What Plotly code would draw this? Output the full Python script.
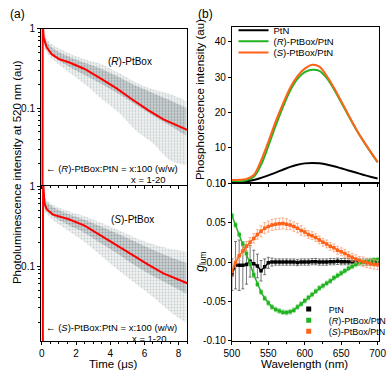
import plotly.graph_objects as go

# ---------------- Panel (a) data ----------------
t_env = [0.05, 0.5, 1.5, 2.5, 3.5, 4.5, 5.5, 6.5, 7.5, 8.45]
R_upper = [0.92, 0.66, 0.50, 0.41, 0.355, 0.275, 0.21, 0.172, 0.15, 0.123]
R_lower = [0.60, 0.435, 0.29, 0.20, 0.13, 0.088, 0.052, 0.036, 0.022, 0.019]
R_core_hi = [0.85, 0.60, 0.45, 0.37, 0.31, 0.245, 0.19, 0.155, 0.125, 0.10]
R_core_lo = [0.68, 0.48, 0.34, 0.26, 0.20, 0.15, 0.11, 0.08, 0.06, 0.045]
S_upper = [0.77, 0.61, 0.49, 0.42, 0.345, 0.28, 0.225, 0.188, 0.165, 0.152]
S_lower = [0.51, 0.40, 0.28, 0.20, 0.133, 0.088, 0.06, 0.041, 0.027, 0.0196]
S_core_hi = [0.72, 0.57, 0.45, 0.38, 0.31, 0.25, 0.20, 0.16, 0.13, 0.11]
S_core_lo = [0.56, 0.44, 0.33, 0.26, 0.19, 0.14, 0.10, 0.075, 0.058, 0.045]

R_fit_t = [0.03, 0.05, 0.11, 0.29, 0.57, 1.03, 1.58, 2.5, 3.43, 4.35, 5.27, 6.19, 7.11, 8.5]
R_fit_v = [0.001, 1.2, 0.76, 0.575, 0.476, 0.41, 0.377, 0.31, 0.236, 0.178, 0.129, 0.0946, 0.072, 0.053]
S_fit_t = [0.05, 0.07, 0.15, 0.29, 0.65, 1.58, 2.5, 3.43, 4.35, 5.27, 6.19, 7.11, 8.5]
S_fit_v = [0.001, 1.2, 0.61, 0.51, 0.44, 0.385, 0.32, 0.24, 0.183, 0.139, 0.105, 0.081, 0.061]

# ---------------- Panel (b) top data ----------------
wl_int = [500, 510, 520, 530, 540, 550, 560, 570, 580, 590, 600, 610, 620, 630, 640, 650, 660, 670, 680, 690, 700]
I_PtN = [0.3, 0.35, 0.5, 0.9, 1.5, 2.2, 3.0, 3.8, 4.6, 5.2, 5.6, 5.7, 5.6, 5.3, 4.8, 4.2, 3.6, 3.0, 2.4, 1.8, 1.3]
I_R = [0.4, 0.5, 0.8, 1.8, 5.2, 10.5, 16.2, 21.5, 26.2, 29.5, 31.4, 32.1, 31.8, 29.8, 26.6, 22.9, 19.1, 15.4, 12.0, 8.9, 5.9]
I_S = [0.9, 0.95, 1.2, 2.3, 6.4, 11.7, 17.4, 22.4, 27.0, 30.3, 32.4, 33.5, 33.0, 30.4, 27.0, 23.2, 19.3, 15.5, 12.1, 9.0, 6.0]

# ---------------- Panel (b) bottom data ----------------
wl_g = list(range(500, 705, 5))
g_PtN = [-0.016, -0.004, -0.004, -0.004, -0.003, 0.001, -0.002, -0.005, -0.011, -0.006,
         -0.001, 0.0, 0.0, 0.0, 0.0, 0.0, 0.0, 0.0, -0.0005, 0.0, 0.0, 0.0, 0.0005, 0.0005,
         0.0, 0.0, 0.0, 0.0005, 0.0005, 0.001, 0.0005, 0.0005, 0.0005, 0.0, 0.0, 0.0, 0.0,
         0.0, 0.0, 0.0, 0.0]
e_PtN = [0.02, 0.03, 0.032, 0.03, 0.025, 0.02, 0.017, 0.015, 0.013, 0.01, 0.007, 0.005]
e_PtN = e_PtN + [0.004] * (41 - len(e_PtN))
g_R = [0.059, 0.047, 0.035, 0.023, 0.011, -0.0025, -0.016, -0.028, -0.038, -0.046,
       -0.052, -0.057, -0.060, -0.062, -0.0635, -0.064, -0.063, -0.061, -0.057, -0.053,
       -0.049, -0.045, -0.041, -0.037, -0.033, -0.030, -0.027, -0.024, -0.020, -0.017,
       -0.014, -0.011, -0.008, -0.0055, -0.003, -0.0015, 0.0, 0.001, 0.002, 0.0025, 0.003]
e_R = [0.003] * 41
g_S = [-0.0115, -0.0005, 0.008, 0.014, 0.020, 0.025, 0.030, 0.035, 0.039, 0.043,
       0.045, 0.047, 0.048, 0.0485, 0.049, 0.048, 0.047, 0.045, 0.043, 0.040,
       0.038, 0.035, 0.0335, 0.031, 0.028, 0.025, 0.023, 0.020, 0.018, 0.015,
       0.013, 0.011, 0.008, 0.006, 0.004, 0.002, 0.0005, -0.001, -0.002, -0.003, -0.0035]
e_S = [0.006, 0.006, 0.006, 0.006, 0.006, 0.006, 0.006, 0.006, 0.007, 0.007, 0.007, 0.007,
       0.007, 0.007, 0.007, 0.007, 0.006, 0.006, 0.006, 0.006, 0.005, 0.005, 0.005, 0.005,
       0.005, 0.005, 0.005, 0.005, 0.005, 0.005, 0.005, 0.005, 0.005, 0.005, 0.005, 0.005,
       0.006, 0.006, 0.006, 0.006, 0.006]

series_names = ["PtN", "(<i>R</i>)-PtBox/PtN", "(<i>S</i>)-PtBox/PtN"]

BLACK = "#000000"
GREEN = "#22b322"
ORANGE = "#ff6319"
RED = "#ff0000"
FONT = "Arial, Liberation Sans, sans-serif"

W, H = 392, 376
def px(x): return x / W
def py(y): return 1 - y / H

fig = go.Figure()

def band(xa, ya, lo, hi, fg, bg, size, sol):
    fig.add_trace(go.Scatter(x=t_env, y=lo, mode="lines", line=dict(width=0, shape="spline"),
                             xaxis=xa, yaxis=ya, showlegend=False, hoverinfo="skip"))
    fig.add_trace(go.Scatter(x=t_env, y=hi, mode="lines", line=dict(width=0, shape="spline"),
                             fill="tonexty", fillcolor=bg,
                             fillpattern=dict(shape=".", fgcolor=fg, bgcolor=bg, size=size, solidity=sol),
                             xaxis=xa, yaxis=ya, showlegend=False, hoverinfo="skip"))

OUT_BG = "rgba(210,216,218,0.35)"
CORE_BG = "rgba(150,162,166,0.4)"
band("x", "y", R_lower, R_upper, "#9aa5a8", OUT_BG, 3, 0.3)
band("x", "y", R_core_lo, R_core_hi, "#7a8689", CORE_BG, 3, 0.35)
fig.add_trace(go.Scatter(x=R_fit_t, y=R_fit_v, mode="lines", line=dict(color=RED, width=2),
                         xaxis="x", yaxis="y", showlegend=False))
band("x2", "y2", S_lower, S_upper, "#9aa5a8", OUT_BG, 3, 0.3)
band("x2", "y2", S_core_lo, S_core_hi, "#7a8689", CORE_BG, 3, 0.35)
fig.add_trace(go.Scatter(x=S_fit_t, y=S_fit_v, mode="lines", line=dict(color=RED, width=2),
                         xaxis="x2", yaxis="y2", showlegend=False))

# (b) top
top_leg = ["legend", "legend3", "legend4"]
for name, ys, col, lg in zip(series_names, [I_PtN, I_R, I_S], [BLACK, GREEN, ORANGE], top_leg):
    fig.add_trace(go.Scatter(x=wl_int, y=ys, mode="lines", name=name,
                             line=dict(color=col, width=2, shape="spline"),
                             xaxis="x3", yaxis="y3", legend=lg))

# (b) bottom
for ys, es, col, ecol in [(g_PtN, e_PtN, BLACK, "#555555"), (g_R, e_R, GREEN, "#8fd88f"),
                          (g_S, e_S, ORANGE, "#f8a47c")]:
    fig.add_trace(go.Scatter(x=wl_g, y=ys, mode="lines+markers",
                             line=dict(color=col, width=1.5),
                             marker=dict(symbol="square", size=3.5, color=col),
                             error_y=dict(type="data", array=es, color=ecol, thickness=0.8, width=1.5),
                             xaxis="x4", yaxis="y4", showlegend=False))
bot_leg = ["legend2", "legend5", "legend6"]
for name, col, lg in zip(series_names, [BLACK, GREEN, ORANGE], bot_leg):
    fig.add_trace(go.Scatter(x=[None], y=[None], mode="markers", name=name,
                             marker=dict(symbol="square", size=5, color=col),
                             xaxis="x4", yaxis="y4", legend=lg))

axis_common = dict(showline=True, linecolor="black", linewidth=1, mirror=True, showgrid=False,
                   zeroline=False, ticks="outside", ticklen=3, tickcolor="black",
                   ticklabeloverflow="allow",
                   tickfont=dict(size=10, color="black", family=FONT))

log_minor = [0.02, 0.03, 0.04, 0.05, 0.06, 0.07, 0.08, 0.09, 0.2, 0.3, 0.4, 0.5, 0.6, 0.7, 0.8, 0.9]
xa_dom = [px(34.7), px(188.3)]
xb_dom = [px(235.3), px(390)]

def leg(x, y, size):
    return dict(x=px(x), y=py(y), xanchor="left", yanchor="middle", bgcolor="rgba(0,0,0,0)",
                font=dict(size=size, color="black"), tracegroupgap=0, itemwidth=30, borderwidth=0)

fig.update_layout(
    width=W, height=H, margin=dict(l=0, r=0, t=0, b=0),
    paper_bgcolor="white", plot_bgcolor="white",
    font=dict(family=FONT, color="black", size=10),
    xaxis=dict(domain=xa_dom, anchor="y", range=[-0.05, 8.5], showticklabels=False,
               dtick=2, minor=dict(dtick=0.5, ticks="outside", ticklen=2), **axis_common),
    yaxis=dict(domain=[py(185), py(23.3)], anchor="x", type="log", range=[-1.97, 0],
               tickvals=[0.1, 1], ticktext=["0.1", "1"],
               minor=dict(ticks="outside", ticklen=2, tickvals=log_minor), **axis_common),
    xaxis2=dict(domain=xa_dom, anchor="y2", range=[-0.05, 8.5], tickvals=[0, 2, 4, 6, 8],
                minor=dict(dtick=0.5, ticks="outside", ticklen=2), **axis_common),
    yaxis2=dict(domain=[py(346), py(186)], anchor="x2", type="log", range=[-1.935, 0],
                tickvals=[0.1, 1], ticktext=["0.1", "1"],
                minor=dict(ticks="outside", ticklen=2, tickvals=log_minor), **axis_common),
    xaxis3=dict(domain=xb_dom, anchor="y3", range=[500, 702], showticklabels=False,
                tickvals=[500, 550, 600, 650, 700], minor=dict(dtick=25, ticks="outside", ticklen=2),
                **axis_common),
    yaxis3=dict(domain=[py(183), py(21.3)], anchor="x3", range=[0, 44.3],
                tickvals=[0, 10, 20, 30, 40], **axis_common),
    xaxis4=dict(domain=xb_dom, anchor="y4", range=[500, 702],
                tickvals=[500, 550, 600, 650, 700], minor=dict(dtick=25, ticks="outside", ticklen=2),
                **axis_common),
    yaxis4=dict(domain=[py(346), py(183)], anchor="x4", range=[-0.1, 0.1],
                tickvals=[-0.1, -0.05, 0, 0.05, 0.1], ticktext=["-0.10", "-0.05", "0.00", "0.05", "0.10"],
                **axis_common),
    legend=leg(237, 25, 9.5), legend3=leg(237, 36.5, 9.5), legend4=leg(237, 48, 9.5),
    legend2=leg(295, 313, 9), legend5=leg(295, 324.5, 9), legend6=leg(295, 336, 9),
)

ann = [
    dict(text="(a)", x=px(0), y=py(8), xanchor="left", yanchor="middle", font=dict(size=12)),
    dict(text="(b)", x=px(198), y=py(8), xanchor="left", yanchor="middle", font=dict(size=12)),
    dict(text="Photoluminescence intensity at 520 nm (au)", x=px(9), y=py(172), textangle=-90,
         xanchor="center", yanchor="middle", font=dict(size=11.5)),
    dict(text="Time (μs)", x=px(111), y=py(370), xanchor="center", yanchor="middle", font=dict(size=11.5)),
    dict(text="Phosphorescence intensity (au)", x=px(202), y=py(97), textangle=-90,
         xanchor="center", yanchor="middle", font=dict(size=11.5)),
    dict(text="<i>g</i><sub>lum</sub>", x=px(202), y=py(264), textangle=-90,
         xanchor="center", yanchor="middle", font=dict(size=12)),
    dict(text="Wavelength (nm)", x=px(312), y=py(370), xanchor="center", yanchor="middle", font=dict(size=11.5)),
    dict(text="(<i>R</i>)-PtBox", x=px(128), y=py(57), xanchor="center", yanchor="middle", font=dict(size=10)),
    dict(text="← (<i>R</i>)-PtBox:PtN = x:100 (w/w)", x=px(38), y=py(168), xanchor="left", yanchor="middle",
         font=dict(size=9.5)),
    dict(text="x = 1-20", x=px(148), y=py(179), xanchor="center", yanchor="middle", font=dict(size=9.5)),
    dict(text="(<i>S</i>)-PtBox", x=px(131), y=py(221), xanchor="center", yanchor="middle", font=dict(size=10)),
    dict(text="← (<i>S</i>)-PtBox:PtN = x:100 (w/w)", x=px(38), y=py(332), xanchor="left", yanchor="middle",
         font=dict(size=9.5)),
    dict(text="x = 1-20", x=px(149), y=py(343), xanchor="center", yanchor="middle", font=dict(size=9.5)),
]
for a in ann:
    a.update(xref="paper", yref="paper", showarrow=False)
fig.update_layout(annotations=ann)

fig.write_html("out.html", config={"displayModeBar": False},
               post_script="document.body.style.margin='0px';document.body.style.padding='0px';")
